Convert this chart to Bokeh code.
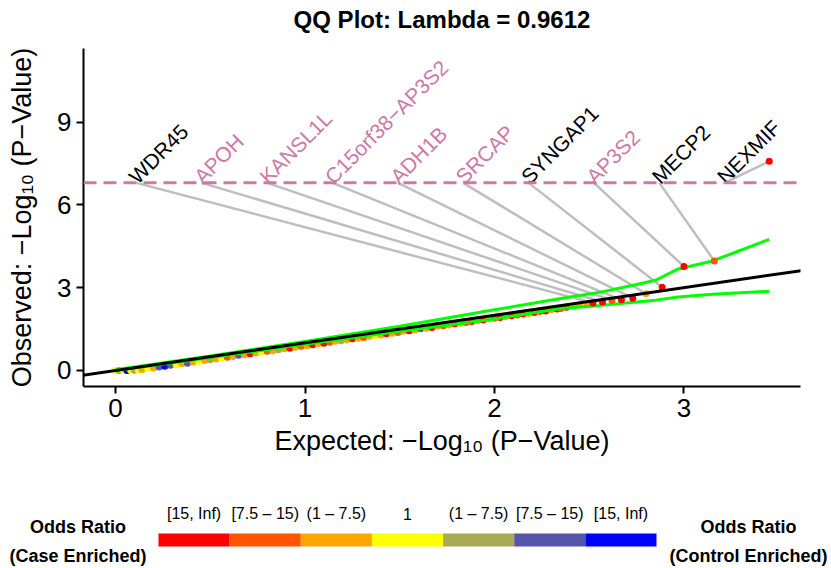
from bokeh.plotting import figure
from bokeh.models import Range1d, Slope, Span, ColumnDataSource, FixedTicker
from bokeh.layouts import column
from bokeh.embed import file_html
from bokeh.resources import INLINE
from bokeh.core.properties import value

FONT = "Liberation Sans"

# ---------------- data ----------------
title_text = "QQ Plot: Lambda = 0.9612"
x_label = "Expected: \u2212Log\u2081\u2080 (P\u2212Value)"
y_label = "Observed: \u2212Log\u2081\u2080 (P\u2212Value)"
x_ticks = [0, 1, 2, 3]
y_ticks = [0, 3, 6, 9]
threshold = 6.8

or_labels = ["[15, Inf)", "[7.5 \u2013 15)", "(1 \u2013 7.5)", "1", "(1 \u2013 7.5)", "[7.5 \u2013 15)", "[15, Inf)"]
or_colors = ["#FF0000", "#FF5500", "#FFA500", "#FFFF00", "#AAAA55", "#5555AA", "#0000FF"]
legend_left_title = ["Odds Ratio", "(Case Enriched)"]
legend_right_title = ["Odds Ratio", "(Control Enriched)"]

bulk_expected = [0.00, 0.02, 0.04, 0.06, 0.08, 0.10, 0.12, 0.14, 0.17, 0.20, 0.23, 0.26, 0.29, 0.32,
                 0.35, 0.38, 0.41, 0.44, 0.47, 0.50, 0.53, 0.56, 0.59, 0.62, 0.65, 0.68, 0.71, 0.74,
                 0.77, 0.80, 0.83, 0.86, 0.89, 0.92, 0.95, 0.98, 1.01, 1.04, 1.07, 1.10, 1.13, 1.16,
                 1.19, 1.22, 1.25, 1.28, 1.31, 1.34, 1.37, 1.40, 1.43, 1.46, 1.49, 1.52, 1.55, 1.58,
                 1.61, 1.64, 1.67, 1.70, 1.73, 1.76, 1.79, 1.82, 1.85, 1.88, 1.91, 1.94, 1.97, 2.00,
                 2.03, 2.06, 2.09, 2.12, 2.15, 2.18, 2.21, 2.24, 2.27, 2.30, 2.33, 2.35, 2.38, 2.42,
                 2.45, 2.49]
bulk_observed = [0.00, 0.00, 0.01, 0.00, 0.02, 0.01, 0.03, 0.04, 0.07, 0.09, 0.13, 0.15, 0.19, 0.21,
                 0.25, 0.26, 0.31, 0.33, 0.36, 0.39, 0.42, 0.46, 0.48, 0.51, 0.55, 0.57, 0.61, 0.63,
                 0.66, 0.70, 0.72, 0.75, 0.79, 0.81, 0.84, 0.88, 0.90, 0.93, 0.97, 0.99, 1.02, 1.06,
                 1.08, 1.11, 1.15, 1.17, 1.20, 1.24, 1.26, 1.29, 1.33, 1.35, 1.38, 1.42, 1.44, 1.47,
                 1.51, 1.53, 1.56, 1.60, 1.62, 1.65, 1.69, 1.71, 1.74, 1.78, 1.80, 1.83, 1.87, 1.89,
                 1.92, 1.96, 1.98, 2.01, 2.05, 2.07, 2.10, 2.14, 2.16, 2.20, 2.23, 2.25, 2.29, 2.34,
                 2.38, 2.42]
bulk_or_class = [3, 4, 3, 6, 3, 4, 3, 2, 3, 2, 5, 6, 5, 3, 2, 5, 2, 3, 2, 4, 2, 3, 1, 2, 5, 2, 0, 2,
                 3, 1, 2, 4, 2, 0, 2, 1, 2, 0, 2, 0, 1, 2, 4, 2, 0, 2, 1, 2, 3, 2, 0, 2, 1, 2, 0, 2,
                 5, 2, 0, 2, 1, 2, 0, 2, 1, 0, 2, 0, 2, 1, 0, 2, 0, 1, 0, 2, 0, 1, 0, 2, 0, 1, 0, 2,
                 2, 2]

genes = ["WDR45", "APOH", "KANSL1L", "C15orf38\u2212AP3S2", "ADH1B", "SRCAP", "SYNGAP1", "AP3S2", "MECP2", "NEXMIF"]
gene_expected = [2.52, 2.57, 2.62, 2.67, 2.73, 2.80, 2.885, 3.00, 3.16, 3.45]
gene_observed = [2.45, 2.48, 2.54, 2.56, 2.62, 2.78, 3.02, 3.77, 3.97, 7.58]
gene_or_class = [0, 0, 1, 0, 0, 2, 0, 0, 1, 0]
gene_group = ["black", "pink", "pink", "pink", "pink", "pink", "black", "pink", "black", "black"]

ci_expected = [0.0, 0.5, 1.0, 1.5, 2.0, 2.35, 2.56, 2.75, 2.85, 2.97, 3.15, 3.45]
ci_upper = [0.03, 0.53, 1.05, 1.60, 2.20, 2.61, 2.84, 3.12, 3.27, 3.68, 3.97, 4.75]
ci_lower = [0.00, 0.47, 0.95, 1.42, 1.87, 2.25, 2.36, 2.48, 2.55, 2.66, 2.76, 2.87]

# ---------------- styles ----------------
PINK = "#CC79A7"
group_color = {"black": "#000000", "pink": PINK}
W = 831
TITLE_H, MAIN_H, LEG_H = 40, 430, 98


def strip(height):
    """A full-width, axis-free figure whose frame uses pixel-like units (y downwards)."""
    f = figure(width=W, height=height, x_range=Range1d(0, W), y_range=Range1d(height, 0),
               output_backend="svg", toolbar_location=None,
               x_axis_location=None, y_axis_location=None,
               min_border_left=0, min_border_right=0, min_border_top=0, min_border_bottom=0)
    f.frame_align = False
    f.outline_line_color = None
    f.grid.visible = False
    f.background_fill_color = "white"
    f.border_fill_color = "white"
    return f


# ---------------- title strip ----------------
pt = strip(TITLE_H)
pt.text([441.5], [19], text=[title_text], text_align="center", text_baseline="middle",
        text_font=value(FONT), text_font_size="24px", text_font_style="bold", text_color="black")

# ---------------- main plot ----------------
label_x = [0.11 + 0.345 * i for i in range(len(genes))]  # repelled label anchors

p = figure(width=W, height=MAIN_H, x_range=Range1d(-0.169, 3.615), y_range=Range1d(-0.58, 11.67),
           output_backend="svg", toolbar_location=None,
           min_border_left=83, min_border_right=31, min_border_top=8, min_border_bottom=84)
p.frame_align = False
p.outline_line_color = None
p.xgrid.visible = False
p.ygrid.visible = False
p.background_fill_color = "white"
p.border_fill_color = "white"

for ax, ticks, lab in ((p.xaxis[0], x_ticks, x_label), (p.yaxis[0], y_ticks, y_label)):
    ax.ticker = FixedTicker(ticks=ticks)
    ax.axis_label = lab
    ax.axis_label_text_font = FONT
    ax.axis_label_text_font_size = "27px"
    ax.axis_label_text_font_style = "normal"
    ax.axis_label_text_color = "black"
    ax.major_label_text_font = FONT
    ax.major_label_text_font_size = "26px"
    ax.major_label_text_color = "black"
    ax.axis_line_width = 2
    ax.axis_line_color = "black"
    ax.major_tick_line_width = 2
    ax.major_tick_line_color = "black"
    ax.major_tick_out = 7
    ax.major_tick_in = 0
    ax.minor_tick_line_color = None
    ax.major_label_standoff = 5
p.xaxis[0].axis_label_standoff = 6
p.yaxis[0].axis_label_standoff = 17

# threshold
p.add_layout(Span(location=threshold, dimension="width", line_color=PINK, line_width=3,
                  line_dash="13 7"))

# label segments
p.segment(x0=label_x, y0=[threshold] * len(genes), x1=gene_expected, y1=gene_observed,
          line_color="#BEBEBE", line_width=2.5)

# bulk points
bulk_src = ColumnDataSource(dict(x=bulk_expected, y=bulk_observed,
                                 c=[or_colors[k] for k in bulk_or_class]))
p.scatter("x", "y", source=bulk_src, size=7, fill_color="c", line_color=None)

# CI lines
p.line(ci_expected, ci_upper, line_color="#00FF00", line_width=3)
p.line(ci_expected, ci_lower, line_color="#00FF00", line_width=3)

# identity line
p.add_layout(Slope(gradient=1, y_intercept=0, line_color="black", line_width=3))

# labelled points
gsrc = ColumnDataSource(dict(x=gene_expected, y=gene_observed,
                             c=[or_colors[k] for k in gene_or_class]))
p.scatter("x", "y", source=gsrc, size=7, fill_color="c", line_color=None)

# gene labels
tsrc = ColumnDataSource(dict(x=label_x, y=[threshold] * len(genes), t=genes,
                             c=[group_color[g] for g in gene_group]))
p.text("x", "y", text="t", source=tsrc, angle=45, angle_units="deg", text_align="left",
       text_baseline="alphabetic", x_offset=-4, y_offset=-3, text_color="c",
       text_font=value(FONT), text_font_size="21px")

# ---------------- legend strip ----------------
n = len(or_labels)
p2 = strip(LEG_H)
bar_left, bar_right = 158, 656
bw = (bar_right - bar_left) / n
lsrc = ColumnDataSource(dict(left=[bar_left + i * bw for i in range(n)],
                             right=[bar_left + (i + 1) * bw for i in range(n)],
                             mid=[bar_left + (i + 0.5) * bw for i in range(n)],
                             lab=or_labels, c=or_colors))
p2.quad(left="left", right="right", top=63, bottom=76, fill_color="c", line_color=None, source=lsrc)
p2.text("mid", 43, text="lab", source=lsrc, text_align="center", text_baseline="middle",
        text_font=value(FONT), text_font_size="16px", text_color="black")

for sx, texts in zip([77.5, 748], [legend_left_title, legend_right_title]):
    p2.text([sx, sx], [56, 85], text=texts, text_align="center", text_baseline="middle",
            text_font=value(FONT), text_font_size="18px", text_font_style="bold",
            text_color="black")

layout = column(pt, p, p2, spacing=0)
open("out.html", "w").write(file_html(layout, INLINE))
